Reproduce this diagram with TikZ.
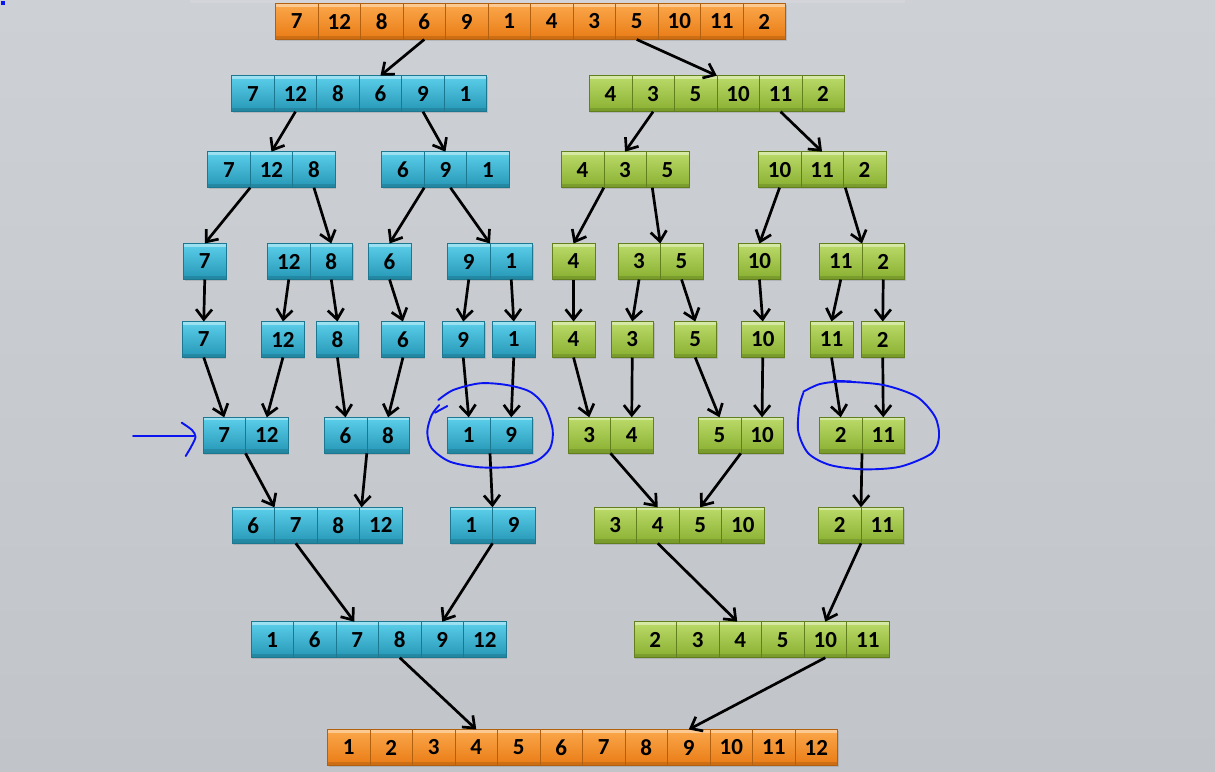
\documentclass[tikz,border=0pt]{standalone}
\usepackage{fontspec}
\setmainfont{Carlito}
\usetikzlibrary{arrows.meta,shadows,calc}
\definecolor{bgtop}{HTML}{CDD0D5}
\definecolor{bgbot}{HTML}{C1C4C9}
\definecolor{orT}{HTML}{FBA84C}
\definecolor{orB}{HTML}{E97B14}
\definecolor{orD}{HTML}{B0600E}
\definecolor{blT}{HTML}{5CCFEB}
\definecolor{blB}{HTML}{2597B6}
\definecolor{blD}{HTML}{1C7890}
\definecolor{grT}{HTML}{BCDB6A}
\definecolor{grB}{HTML}{88AF30}
\definecolor{grD}{HTML}{627F1E}
\definecolor{pen}{HTML}{0A14F0}
\newcommand{\cellrow}[5]{%
  \foreach \v [count=\i] in {#5} {
    \node[#4, anchor=north west] (#1-\i) at ({#2+(\i-1)*42.5}, #3) {\v};
  }%
}
\begin{document}
\begin{tikzpicture}[x=1pt,y=-1pt,
  cell/.style={minimum width=42.5pt, minimum height=36pt, inner sep=0pt, outer sep=0pt,
    font=\bfseries\fontsize{23}{23}\selectfont, text=black, line width=0.6pt,
    drop shadow={shadow xshift=1pt, shadow yshift=-1.5pt, opacity=0.3},
    path picture={
      \fill[white,opacity=0.4] (path picture bounding box.north west) rectangle ([yshift=-3pt]path picture bounding box.north east);
      \fill[black,opacity=0.12] (path picture bounding box.south west) rectangle ([yshift=4pt]path picture bounding box.south east);
    }},
  ocell/.style={cell, top color=orT, bottom color=orB, draw=orD},
  bcell/.style={cell, top color=blT, bottom color=blB, draw=blD},
  gcell/.style={cell, top color=grT, bottom color=grB, draw=grD},
  arr/.style={draw=black, line width=2.7pt, -{Straight Barb[length=10pt,width=16pt]}},
  penline/.style={draw=pen, line width=1.9pt, line cap=round, line join=round}
]
\useasboundingbox (0,0) rectangle (1215,771);
\shade[top color=bgtop, bottom color=bgbot] (0,0) rectangle (1215,771);
\fill[white,opacity=0.12] (190,0) rectangle (905,3);
\fill[pen] (1,1) rectangle (5,5);

% rows
\cellrow{t}{275.5}{3.5}{ocell}{7,12,8,6,9,1,4,3,5,10,11,2}
\cellrow{a}{231.7}{75.7}{bcell}{7,12,8,6,9,1}
\cellrow{b}{589.3}{75.7}{gcell}{4,3,5,10,11,2}
\cellrow{c1}{207.7}{151.7}{bcell}{7,12,8}
\cellrow{c2}{381.7}{151.7}{bcell}{6,9,1}
\cellrow{c3}{561.3}{151.7}{gcell}{4,3,5}
\cellrow{c4}{758.3}{151.7}{gcell}{10,11,2}
\cellrow{d1}{183.5}{243.5}{bcell}{7}
\cellrow{d2}{267.5}{243.5}{bcell}{12,8}
\cellrow{d3}{368.3}{243.5}{bcell}{6}
\cellrow{d4}{447.5}{243.5}{bcell}{9,1}
\cellrow{d5}{552.3}{243.5}{gcell}{4}
\cellrow{d6}{617.8}{243.5}{gcell}{3,5}
\cellrow{d7}{738.2}{243.5}{gcell}{10}
\cellrow{d8}{819.5}{243.5}{gcell}{11,2}
\cellrow{e1}{182.5}{321.5}{bcell}{7}
\cellrow{e2}{261.7}{321.5}{bcell}{12}
\cellrow{e3}{316.2}{321.5}{bcell}{8}
\cellrow{e4}{381.7}{321.5}{bcell}{6}
\cellrow{e5}{442}{321.5}{bcell}{9}
\cellrow{e6}{492.5}{321.5}{bcell}{1}
\cellrow{e7}{552.3}{321.5}{gcell}{4}
\cellrow{e8}{611}{321.5}{gcell}{3}
\cellrow{e9}{674}{321.5}{gcell}{5}
\cellrow{e10}{741.5}{321.5}{gcell}{10}
\cellrow{e11}{810.3}{321.5}{gcell}{11}
\cellrow{e12}{861.5}{321.5}{gcell}{2}
\cellrow{f1}{203}{417.3}{bcell}{7,12}
\cellrow{f2}{324.3}{417.3}{bcell}{6,8}
\cellrow{f3}{447.5}{417.3}{bcell}{1,9}
\cellrow{f4}{568}{417.3}{gcell}{3,4}
\cellrow{f5}{698.3}{417.3}{gcell}{5,10}
\cellrow{f6}{819.5}{417.3}{gcell}{2,11}
\cellrow{g1}{232}{507.3}{bcell}{6,7,8,12}
\cellrow{g2}{450}{507.3}{bcell}{1,9}
\cellrow{g3}{594}{507.3}{gcell}{3,4,5,10}
\cellrow{g4}{818.5}{507.3}{gcell}{2,11}
\cellrow{h1}{251}{621.7}{bcell}{1,6,7,8,9,12}
\cellrow{h2}{634}{621.7}{gcell}{2,3,4,5,10,11}
\cellrow{k}{327.5}{729.5}{ocell}{1,2,3,4,5,6,7,8,9,10,11,12}

% arrows level 0 -> 1
\draw[arr] (t-4.south) -- (a-4.north);
\draw[arr] (t-9.south) -- (b-3.north east);
% 1 -> 2
\draw[arr] (a-2.south) -- (c1-2.north);
\draw[arr] (a-5.south) -- (c2-2.north);
\draw[arr] (b-2.south) -- (c3-2.north);
\draw[arr] (b-5.south) -- (c4-2.north);
% 2 -> 3
\draw[arr] (c1-1.south east) -- (d1-1.north);
\draw[arr] (c1-3.south) -- (d2-2.north);
\draw[arr] (c2-1.south east) -- (d3-1.north);
\draw[arr] ([xshift=5pt]c2-2.south) -- (d4-1.north east);
\draw[arr] (c3-1.south east) -- (d5-1.north);
\draw[arr] ([xshift=6pt]c3-2.south east) -- (d6-1.north east);
\draw[arr] (c4-1.south) -- (d7-1.north);
\draw[arr] ([xshift=2pt]c4-2.south east) -- (d8-1.north east);
% 3 -> 4
\draw[arr] (d1-1.south) -- (e1-1.north);
\draw[arr] (d2-1.south) -- (e2-1.north);
\draw[arr] (d2-2.south) -- (e3-1.north);
\draw[arr] (d3-1.south) -- (e4-1.north);
\draw[arr] (d4-1.south) -- (e5-1.north);
\draw[arr] (d4-2.south) -- (e6-1.north);
\draw[arr] (d5-1.south) -- (e7-1.north);
\draw[arr] (d6-1.south) -- (e8-1.north);
\draw[arr] (d6-2.south) -- (e9-1.north);
\draw[arr] (d7-1.south) -- (e10-1.north);
\draw[arr] (d8-1.south) -- (e11-1.north);
\draw[arr] (d8-2.south) -- (e12-1.north);
% 4 -> 5
\draw[arr] (e1-1.south) -- (f1-1.north);
\draw[arr] (e2-1.south) -- (f1-2.north);
\draw[arr] (e3-1.south) -- (f2-1.north);
\draw[arr] (e4-1.south) -- (f2-2.north);
\draw[arr] (e5-1.south) -- (f3-1.north);
\draw[arr] (e6-1.south) -- (f3-2.north);
\draw[arr] (e7-1.south) -- (f4-1.north);
\draw[arr] (e8-1.south) -- (f4-2.north);
\draw[arr] (e9-1.south) -- (f5-1.north);
\draw[arr] (e10-1.south) -- (f5-2.north);
\draw[arr] (e11-1.south) -- (f6-1.north);
\draw[arr] (e12-1.south) -- (f6-2.north);
% 5 -> 6
\draw[arr] (f1-1.south east) -- (g1-1.north east);
\draw[arr] (f2-1.south east) -- ([xshift=2pt]g1-3.north east);
\draw[arr] (f3-1.south east) -- (g2-1.north east);
\draw[arr] (f4-1.south east) -- (g3-2.north);
\draw[arr] (f5-1.south east) -- (g3-3.north);
\draw[arr] (f6-1.south east) -- (g4-1.north east);
% 6 -> 7
\draw[arr] (g1-2.south) -- ([xshift=-3pt]h1-3.north);
\draw[arr] (g2-1.south east) -- (h1-5.north);
\draw[arr] (g3-2.south) -- ([xshift=-3pt]h2-3.north);
\draw[arr] (g4-1.south east) -- (h2-5.north);
% 7 -> 8
\draw[arr] (h1-4.south) -- (k-4.north);
\draw[arr] (h2-5.south) -- (k-9.north);

% hand-drawn annotations
\draw[penline] (133,436) -- (194,436);
\draw[penline] plot[smooth] coordinates {(181.7,422.7) (192,430) (195.5,437) (191,447) (185.7,456)};
\draw[penline] (435,412.7) -- (447.3,406);
\draw[penline] plot[smooth] coordinates {(438.3,400) (453.3,390) (480,383.3) (506.7,385) (530,391.7) (545,406.7) (552.7,430) (550,448.3) (536.7,460.7) (513.3,466.7) (480,467.3) (450,461.7) (431.7,448.3) (427.3,431.7) (431.7,415) (439.3,405)};
\draw[penline] (833.3,380.7) -- (851.7,381.5);
\draw[penline] plot[smooth] coordinates {(803.3,391.7) (820,384) (843.3,381.7) (883.3,385) (916.7,396.7) (935,416.7) (939,436.7) (931.7,453.3) (900,466.7) (863.3,469.3) (830,465) (808.3,453.3) (798.3,431.7) (799.3,406.7) (803.3,393)};
\end{tikzpicture}
\end{document}
